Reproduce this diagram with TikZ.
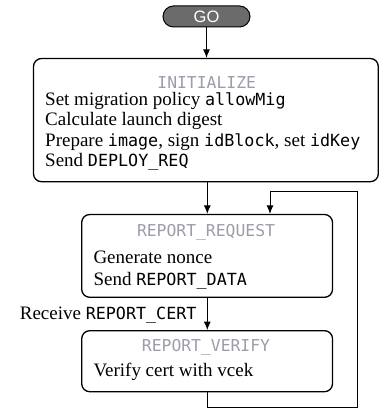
\documentclass[tikz,border=0pt]{standalone}
\usepackage{fontspec}
\setmainfont{Liberation Serif}
\setsansfont{Liberation Sans}
\setmonofont{DejaVu Sans Mono}[Scale=0.88]
\usetikzlibrary{arrows.meta,calc}
\definecolor{titlegray}{HTML}{9C9CAB}
\definecolor{gofill}{HTML}{6B6B6B}
\begin{document}
\begin{tikzpicture}[x=1pt,y=-1pt,
  statebox/.style={draw=black,line width=1.3pt,rounded corners=8pt,inner sep=0pt,fill=white},
  body/.style={anchor=base west,inner sep=0pt,font=\fontsize{19}{20.5}\selectfont},
  ttl/.style={anchor=base,inner sep=0pt,text=titlegray,font=\fontsize{18.6}{20.5}\selectfont\ttfamily},
  conn/.style={line width=0.9pt,-{Latex[length=8.5pt,width=7pt]}},
  gostyle/.style={draw=black,line width=1pt,fill=gofill,rounded corners=10.5pt,
    minimum width=87pt,minimum height=21pt,inner sep=0pt,text=white,
    font=\sffamily\fontsize{16.5}{16.5}\selectfont}]
\useasboundingbox (0,0) rectangle (380,411);

\node[gostyle] (go) at (206.5,16.5) {GO};

\node[statebox,minimum width=344.8pt,minimum height=123.2pt] (init) at (205.9,120.1) {};
\node[statebox,minimum width=250.8pt,minimum height=82.8pt] (req) at (207.1,255.9) {};
\node[statebox,minimum width=250.8pt,minimum height=61pt] (ver) at (207.1,361.2) {};

\node[ttl] (initT) at (206.7,89) {INITIALIZE};
\node[body] (init1) at (45,105.5) {Set migration policy \texttt{allowMig}};
\node[body] (init2) at (45,126) {Calculate launch digest};
\node[body] (init3) at (45,146.5) {Prepare \texttt{image}, sign \texttt{idBlock}, set \texttt{idKey}};
\node[body] (init4) at (45,167) {Send \texttt{DEPLOY\_REQ}};

\node[ttl] (reqT) at (206,236.7) {REPORT\_REQUEST};
\node[body] (req1) at (93.3,263.5) {Generate nonce};
\node[body] (req2) at (93.3,285) {Send \texttt{REPORT\_DATA}};

\node[body,anchor=base east] (recv) at (196.7,319) {Receive \texttt{REPORT\_CERT}};

\node[ttl] (verT) at (206,351.7) {REPORT\_VERIFY};
\node[body] (ver1) at (93.3,376.7) {Verify cert with vcek};

\coordinate (c1) at (207.3,0);
\coordinate (lt) at (270,191.7);
\coordinate (lr) at (357.3,407.3);

\draw[conn] (go.south) -- (go.south |- init.north);
\draw[conn] (c1 |- init.south) -- (c1 |- req.north);
\draw[conn] (c1 |- req.south) -- (c1 |- ver.north);
\draw[conn] (c1 |- ver.south) |- (lr) |- (lt) -- (lt |- req.north);
\end{tikzpicture}
\end{document}
